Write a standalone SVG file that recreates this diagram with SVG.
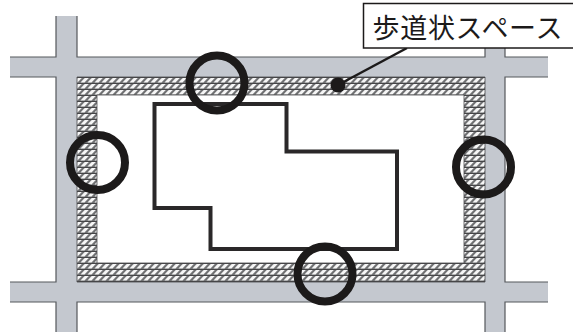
<svg xmlns="http://www.w3.org/2000/svg" width="573" height="335" viewBox="0 0 573 335">
<style>
.road{fill:#c4c8cf}
.edge{fill:none;stroke:#55585c;stroke-width:1.200}
.ring{fill:none;stroke:#1c1a1a;stroke-width:8}
</style>
<defs>
<pattern id="hatch" patternUnits="userSpaceOnUse" x="0" y="77" width="7" height="6">
<rect width="7" height="6" fill="#707173"/>
<path d="M-3.500 5.400L0.800 1H4.800L0.500 5.400ZM3.500 5.400L7.800 1H11.800L7.500 5.400Z" fill="#f6f6f6"/>
<rect y="0" width="7" height="1" fill="#454547"/>
</pattern>
</defs>
<rect width="573" height="335" fill="#fff"/>
<g id="roads">
<rect class="road" x="10" y="57" width="538" height="20"/>
<rect class="road" x="10" y="282" width="538" height="20"/>
<rect class="road" x="56" y="16" width="21" height="316"/>
<rect class="road" x="485" y="40" width="20" height="292"/>
<path class="edge" d="M10 57H56V16M77 16V57H485V40M505 40V57H548M548 77H505V282H548M548 302H505V332M485 332V302H77V332M56 332V302H10M10 282H56V77H10"/>
</g>
<path id="walkway" fill="url(#hatch)" fill-rule="evenodd" stroke="#4a4a4c" stroke-width="0.800" d="M77 77H485V282H77ZM97 95V263H464V95Z"/>
<path id="building" fill="none" stroke="#2a2829" stroke-width="4" d="M154.500 104H286.500V151.500H397V249H210.500V208H154.500Z"/>
<g id="rings">
<circle class="ring" cx="217" cy="83" r="27.500"/>
<circle class="ring" cx="97.500" cy="162.500" r="27.500"/>
<circle class="ring" cx="483.500" cy="167" r="27.500"/>
<circle class="ring" cx="325" cy="274" r="27.500"/>
</g>
<g id="connectors">
<path d="M338 85L407 48" fill="none" stroke="#1c1a1a" stroke-width="2.500"/>
<circle cx="338" cy="85" r="7.500" fill="#1c1a1a"/>
</g>
<g id="label">
<rect x="363.500" y="3.500" width="212" height="44.500" fill="#fff" stroke="#1c1a1a" stroke-width="1.500"/>
<text x="372.500" y="37.500" font-family="'Noto Sans CJK JP','Noto Sans',sans-serif" font-size="27" letter-spacing="0.700" fill="#1c1a1a">歩道状スペース</text>
</g>
</svg>
